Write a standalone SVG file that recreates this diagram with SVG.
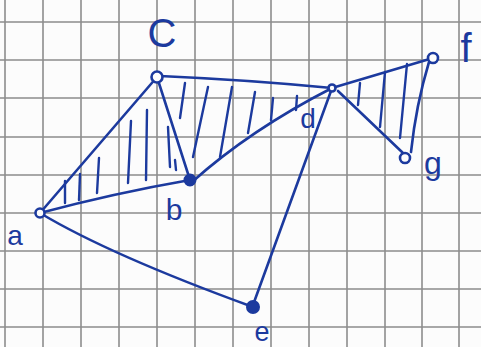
<svg xmlns="http://www.w3.org/2000/svg" width="481" height="347" viewBox="0 0 481 347">
<defs>
<style>
.grid line{stroke:#8c8c8c;stroke-width:1.6}
.ink{stroke:#1c3a9e;stroke-width:2.6;fill:none;stroke-linecap:round;stroke-linejoin:round}
.hatch{stroke:#1c3a9e;stroke-width:2.4;fill:none;stroke-linecap:round}
.open{fill:#fdfdfd;stroke:#1c3a9e;stroke-width:2.6}
.solid{fill:#1c3a9e;stroke:#1c3a9e;stroke-width:2}
.lbl{fill:#1c3a9e;font-family:"Liberation Sans",Arial,sans-serif;text-anchor:middle}
</style>
</defs>
<rect width="481" height="347" fill="#fcfcfc"/>
<g class="grid">
<line x1="5" y1="0" x2="5" y2="347"/><line x1="43" y1="0" x2="43" y2="347"/><line x1="81" y1="0" x2="81" y2="347"/><line x1="119" y1="0" x2="119" y2="347"/><line x1="157" y1="0" x2="157" y2="347"/><line x1="195" y1="0" x2="195" y2="347"/><line x1="233" y1="0" x2="233" y2="347"/><line x1="271" y1="0" x2="271" y2="347"/><line x1="309" y1="0" x2="309" y2="347"/><line x1="347" y1="0" x2="347" y2="347"/><line x1="385" y1="0" x2="385" y2="347"/><line x1="422" y1="0" x2="422" y2="347"/><line x1="459" y1="0" x2="459" y2="347"/>
<line x1="0" y1="22" x2="481" y2="22"/><line x1="0" y1="60" x2="481" y2="60"/><line x1="0" y1="98" x2="481" y2="98"/><line x1="0" y1="137" x2="481" y2="137"/><line x1="0" y1="175" x2="481" y2="175"/><line x1="0" y1="213" x2="481" y2="213"/><line x1="0" y1="251" x2="481" y2="251"/><line x1="0" y1="289" x2="481" y2="289"/><line x1="0" y1="327" x2="481" y2="327"/>
</g>
<g id="hatching" class="hatch">
<path d="M65 181 L65 203"/><path d="M80 174 L79 200"/><path d="M99 158 L97 193"/><path d="M131 121 L128 183"/><path d="M147 110 L146 180"/><path d="M168 127 L170 167"/><path d="M175 160 L176 170"/>
<path d="M185 83 L180 118"/><path d="M208 87 L193 157"/><path d="M232 87 L220 157"/><path d="M255 92 L248 133"/><path d="M273 98 L271 120"/><path d="M297 96 L296 110"/>
<path d="M360 83 L358 105"/><path d="M385 72 L380 127"/><path d="M407 64 L400 138"/>
</g>
<g id="connectors" class="ink">
<path d="M40 213 L157 77"/>
<path d="M157 77 L190 180"/>
<path d="M40 213 Q115 193 190 180"/>
<path d="M160 76 Q250 80 332 88"/>
<path d="M192 182 Q250 130 332 88"/>
<path d="M332 88 L433 58"/>
<path d="M338 91 L403 153"/>
<path d="M429 62 Q416 105 411 152"/>
<path d="M331 91 L253 305"/>
<path d="M40 213 Q110 255 253 307"/>
</g>
<g id="node-a"><circle class="open" cx="40" cy="213" r="4.5"/><text class="lbl" x="15" y="245" font-size="28">a</text></g>
<g id="node-c"><circle class="open" cx="157" cy="77" r="5.5"/><text class="lbl" x="162" y="47" font-size="40">C</text></g>
<g id="node-b"><circle class="solid" cx="190" cy="180" r="5.5"/><text class="lbl" x="174" y="220" font-size="30">b</text></g>
<g id="node-d"><circle class="open" cx="332" cy="88" r="3.5"/><text class="lbl" x="308" y="128" font-size="28">d</text></g>
<g id="node-f"><circle class="open" cx="433" cy="58" r="5"/><text class="lbl" x="466" y="62" font-size="40">f</text></g>
<g id="node-g"><circle class="open" cx="405" cy="158" r="5"/><text class="lbl" x="433" y="174" font-size="32">g</text></g>
<g id="node-e"><circle class="solid" cx="253" cy="307" r="6"/><text class="lbl" x="262" y="341" font-size="27">e</text></g>
</svg>
